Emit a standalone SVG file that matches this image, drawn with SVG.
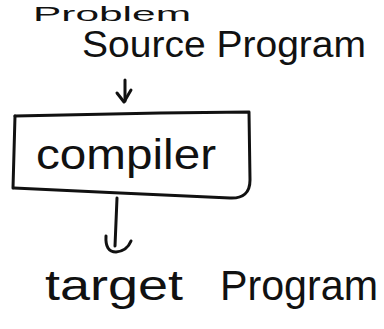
<svg xmlns="http://www.w3.org/2000/svg" width="384" height="329" viewBox="0 0 384 329">
  <style>
    .hand { font-family: "Liberation Sans", "DejaVu Sans", sans-serif; fill: #111; }
    .ink { fill: none; stroke: #111; stroke-width: 3; stroke-linecap: round; stroke-linejoin: round; }
  </style>
  <rect width="384" height="329" fill="#ffffff"/>

  <!-- heading word along the top edge -->
  <g id="heading">
    <text class="hand" x="33" y="21" font-size="21" textLength="158" lengthAdjust="spacingAndGlyphs">Problem</text>
  </g>

  <g id="source">
    <text class="hand" x="82" y="57" font-size="37" textLength="284" lengthAdjust="spacingAndGlyphs">Source Program</text>
  </g>

  <g id="compiler">
    <path class="ink" d="M15,116 L160,113 L249,112 L250,180 Q250,199 230,198 L120,193 L14,188"/>
    <path class="ink" d="M15,116 L13,188" stroke-width="4.5"/>
    <text class="hand" x="36" y="169" font-size="42" textLength="180" lengthAdjust="spacingAndGlyphs">compiler</text>
  </g>

  <g id="target">
    <text class="hand" x="45" y="300" font-size="42" textLength="138" lengthAdjust="spacingAndGlyphs">target</text>
    <text class="hand" x="220" y="300" font-size="42" textLength="158" lengthAdjust="spacingAndGlyphs">Program</text>
  </g>

  <g id="connectors">
    <!-- source to compiler -->
    <path class="ink" d="M125,80 L125,101"/>
    <path class="ink" d="M117,93 L124,102 L131,90"/>
    <!-- compiler to target -->
    <path class="ink" d="M117,198 L115,246"/>
    <path class="ink" d="M106,236 Q105,252 116,252 Q127,251 131,241"/>
  </g>
</svg>
